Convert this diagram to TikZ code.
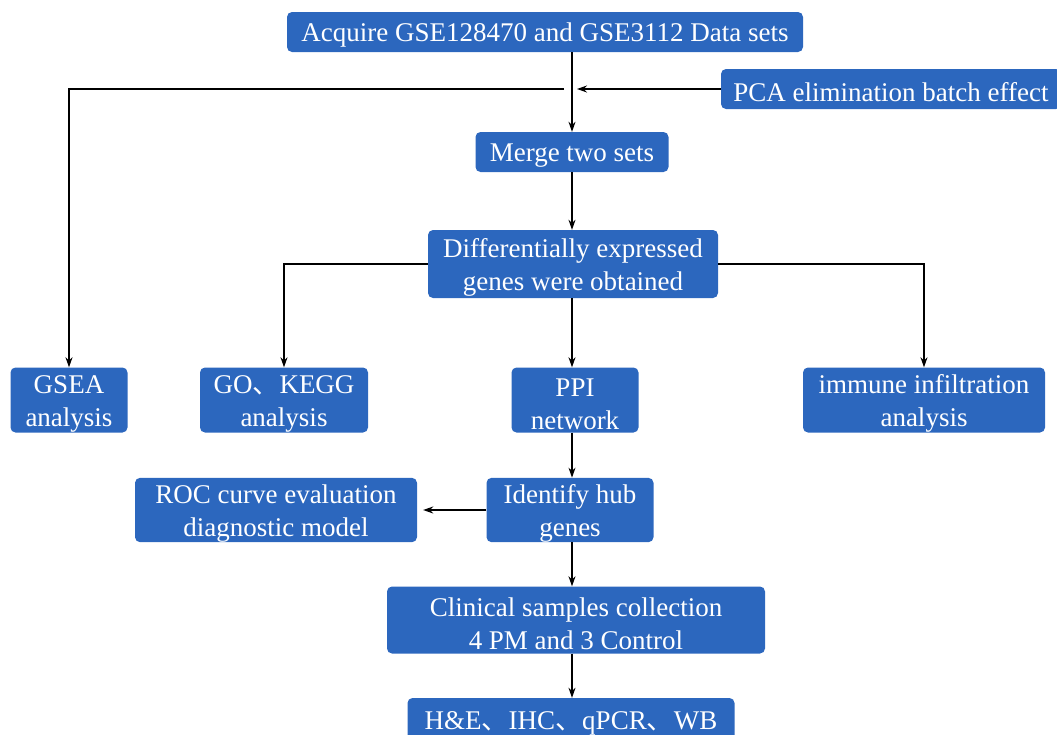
\documentclass[tikz,border=0pt]{standalone}
\usepackage{fontspec}
\setmainfont{LiberationSerif}[Extension=.ttf, UprightFont=*-Regular, BoldFont=*-Bold]
\newfontfamily\cjk{Noto Sans CJK SC}
\usetikzlibrary{arrows.meta}
\definecolor{boxblue}{HTML}{2C67BE}

\tikzset{
  box/.style={fill=boxblue, rounded corners=5pt, text=white, align=center,
    inner sep=0pt, font=\fontsize{27}{33}\selectfont,
    execute at begin node={\rule{0pt}{24.5pt}}},
  twobox/.style={box, execute at begin node={\rule{0pt}{58.5pt}}},
  flow/.style={line width=1.2pt, -{Stealth[length=10pt,width=7pt]}}
}

\begin{document}
\begin{tikzpicture}[x=1pt, y=-1pt]
  \useasboundingbox (0,0) rectangle (1057,734);

  % Data acquisition
  \node[box, minimum width=516pt, minimum height=40pt] (acquire) at (545,32) {Acquire GSE128470 and GSE3112 Data sets};
  \node[box, minimum width=340pt, minimum height=40pt] (pca) at (891,89) {PCA elimination batch effect};
  \node[box, minimum width=193pt, minimum height=40pt] (merge) at (572,152) {Merge two sets};
  \node[twobox, minimum width=290pt, minimum height=68pt] (deg) at (573,264) {Differentially expressed\\genes were obtained};

  % Analyses
  \node[twobox, minimum width=117pt, minimum height=65pt] (gsea) at (69,400) {GSEA\\analysis};
  \node[twobox, minimum width=168pt, minimum height=65pt] (gokegg) at (284,400) {GO{\cjk 、}KEGG\\analysis};
  \node[twobox, minimum width=127pt, minimum height=65pt] (ppi) at (575,400) {PPI\\network};
  \node[twobox, minimum width=242pt, minimum height=65pt] (immune) at (924,400) {immune infiltration\\analysis};

  % Validation
  \node[twobox, minimum width=282pt, minimum height=64pt] (roc) at (276,510) {ROC curve evaluation\\diagnostic model};
  \node[twobox, minimum width=167pt, minimum height=64pt] (hub) at (570,510) {Identify hub\\genes};
  \node[twobox, minimum width=378pt, minimum height=67pt] (clinical) at (576,620) {Clinical samples collection\\4 PM and 3 Control};
  \node[box, minimum width=327pt, minimum height=44pt] (assays) at (571,720) {H\&E{\cjk 、}IHC{\cjk 、}qPCR{\cjk 、}WB};

  % Connectors
  \coordinate (junc) at (572,89);
  \draw[flow] (acquire.south -| junc) -- (merge.north -| junc);
  \draw[flow] (pca.west) -- ([xshift=5pt]junc);
  \draw[flow] ([xshift=-8pt]junc) -| (gsea.north);
  \draw[flow] (merge.south -| junc) -- (deg.north -| junc);
  \draw[flow] (deg.west) -| (gokegg.north);
  \draw[flow] (deg.east) -| (immune.north);
  \draw[flow] (deg.south -| junc) -- (ppi.north -| junc);
  \draw[flow] (ppi.south -| junc) -- (hub.north -| junc);
  \draw[flow, shorten >=6pt] (hub.west) -- (roc.east);
  \draw[flow] (hub.south -| junc) -- (clinical.north -| junc);
  \draw[flow] (clinical.south -| junc) -- (assays.north -| junc);
\end{tikzpicture}
\end{document}
